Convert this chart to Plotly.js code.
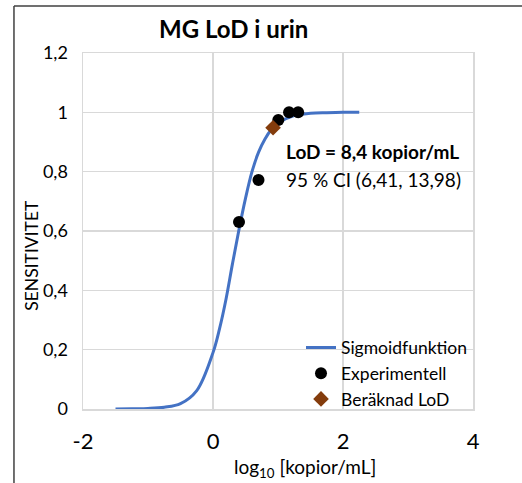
<!DOCTYPE html>
<html><head><meta charset="utf-8">
<script src="https://cdn.plot.ly/plotly-3.0.1.min.js"></script>
<style>html,body{margin:0;padding:0;background:#fff}#chart{width:522px;height:483px}</style>
</head><body><div id="chart"></div>
<script>
// Sigmoid curve
const curveX = [-1.5, -1.25, -1.0, -0.75, -0.5, -0.25, 0.0, 0.1, 0.2, 0.3, 0.4, 0.5, 0.6, 0.7, 0.8, 0.9, 1.0, 1.25, 1.5, 1.75, 2.0, 2.25];
const curveY = [0.0, 0.001, 0.002, 0.006, 0.018, 0.062, 0.19, 0.27, 0.37, 0.49, 0.605, 0.71, 0.80, 0.865, 0.91, 0.943, 0.964, 0.989, 0.997, 0.999, 1.0, 1.0];
// Experimental points
const expX = [0.40, 0.70, 1.005, 1.17, 1.31];
const expY = [0.63, 0.772, 0.974, 1.0, 1.0];
// Calculated LoD
const lodX = [0.924];
const lodY = [0.948];
const xTickVals = [-2, 0, 2, 4];
const xTickText = ['-2', '0', '2', '4'];
const yTickVals = [0, 0.2, 0.4, 0.6, 0.8, 1.0, 1.2];

const F = 'Lato, "Open Sans", sans-serif';
const traces = [
  {x: curveX, y: curveY, mode: 'lines', name: 'Sigmoidfunktion', line: {color: '#4472C4', width: 3, shape: 'spline'}},
  {x: expX, y: expY, mode: 'markers', name: 'Experimentell', marker: {color: '#000000', size: 12, symbol: 'circle'}},
  {x: lodX, y: lodY, mode: 'markers', name: 'Beräknad LoD', marker: {color: '#843C0C', size: 12, symbol: 'diamond'}}
];
const layout = {
  width: 522, height: 483,
  margin: {l: 83, r: 49, t: 53, b: 74},
  paper_bgcolor: '#fff', plot_bgcolor: '#fff',
  separators: ', ',
  font: {family: F, color: '#000'},
  showlegend: true,
  legend: {x: 1, y: -0.024, xanchor: 'right', yanchor: 'bottom', bgcolor: 'rgba(0,0,0,0)', font: {family: F, size: 17.5, color: '#000'}, tracegroupgap: 0, itemwidth: 30},
  xaxis: {range: [-2, 4], tickvals: xTickVals, ticktext: xTickText, showgrid: true, gridcolor: '#d9d9d9', gridwidth: 1.5,
          zeroline: false, showline: true, mirror: true, linecolor: '#d9d9d9', linewidth: 1.5, ticks: '',
          tickfont: {family: F, size: 22, color: '#000'}, ticklabelstandoff: 12},
  yaxis: {range: [0, 1.2], tickvals: yTickVals, showgrid: true, gridcolor: '#d9d9d9', gridwidth: 1.5,
          zeroline: false, showline: true, mirror: true, linecolor: '#d9d9d9', linewidth: 1.5, ticks: '',
          tickfont: {family: F, size: 18, color: '#000'}, ticklabelstandoff: 10},
  annotations: [
    {xref: 'paper', yref: 'paper', x: 0.385, y: 1.07, text: '<b>MG LoD i urin</b>', showarrow: false, xanchor: 'center', yanchor: 'middle', font: {family: F, size: 24, color: '#000'}},
    {xref: 'paper', yref: 'paper', x: 0.515, y: 0.722, text: '<b>LoD = 8,4 kopior/mL</b>', showarrow: false, xanchor: 'left', yanchor: 'middle', font: {family: F, size: 19, color: '#000'}},
    {xref: 'paper', yref: 'paper', x: 0.515, y: 0.646, text: '95 % CI (6,41, 13,98)', showarrow: false, xanchor: 'left', yanchor: 'middle', font: {family: F, size: 19, color: '#000'}},
    {xref: 'paper', yref: 'paper', x: 0.569, y: -0.166, text: 'log<sub>10</sub> [kopior/mL]', showarrow: false, xanchor: 'center', yanchor: 'middle', font: {family: F, size: 19, color: '#000'}},
    {xref: 'paper', yref: 'paper', x: -0.131, y: 0.433, text: 'SENSITIVITET', textangle: -90, showarrow: false, xanchor: 'center', yanchor: 'middle', font: {family: F, size: 17.5, color: '#000'}}
  ],
  shapes: [
    {type: 'rect', xref: 'paper', yref: 'paper', x0: 0.538, x1: 0.995, y0: 0.005, y1: 0.18, layer: 'between', fillcolor: '#fff', line: {width: 0}},
    {type: 'line', xref: 'paper', yref: 'paper', x0: -0.177, x1: -0.177, y0: 1.132, y1: -0.22, line: {color: '#404040', width: 1.5}},
    {type: 'line', xref: 'paper', yref: 'paper', x0: -0.177, x1: 1.15, y0: 1.132, y1: 1.132, line: {color: '#404040', width: 1.5}}
  ]
};
Plotly.newPlot('chart', traces, layout, {displayModeBar: false, staticPlot: true});
</script></body></html>
